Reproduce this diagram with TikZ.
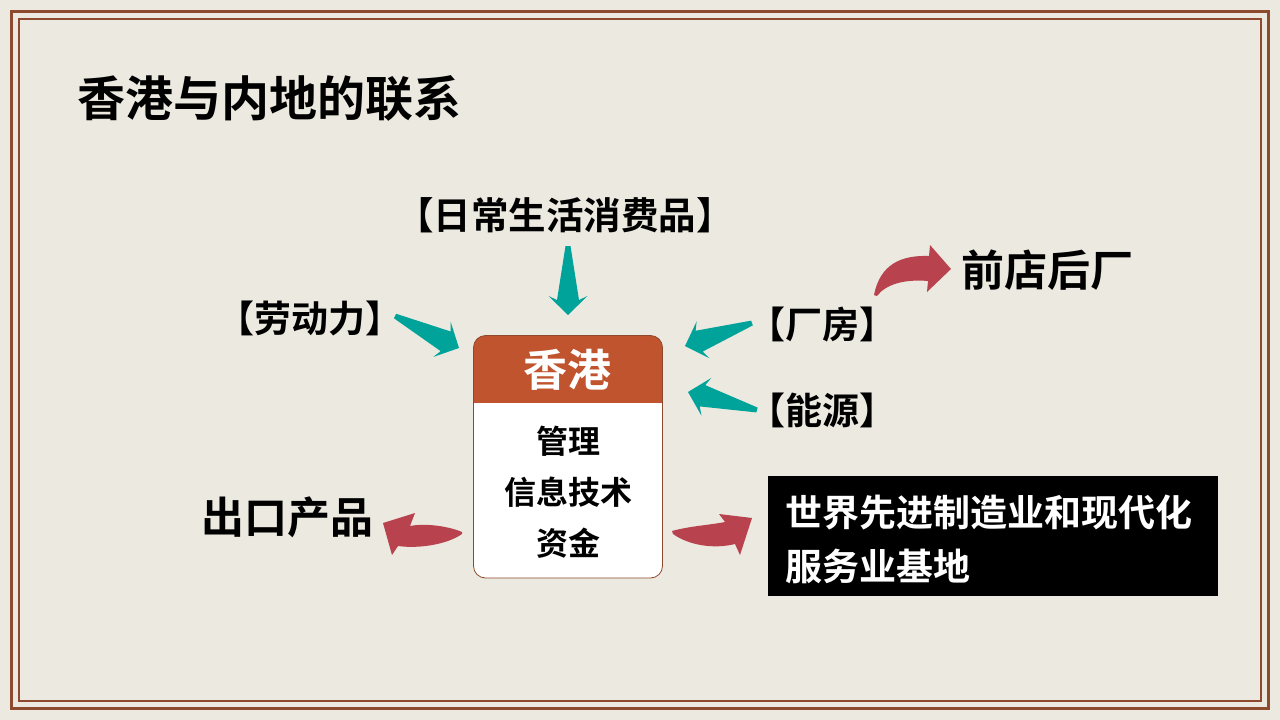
\documentclass[tikz,border=0pt]{standalone}
\usepackage{fontspec}
\newfontfamily\cjk{Noto Sans CJK SC}[BoldFont={Noto Sans CJK SC Bold}]
\usetikzlibrary{calc}
\definecolor{bgc}{HTML}{ECE9E0}
\definecolor{brd}{HTML}{8E4A2E}
\definecolor{hdr}{HTML}{C0542E}
\definecolor{tealc}{HTML}{00A39A}
\definecolor{redc}{HTML}{B8434F}
\newcommand\fs[1]{\fontsize{#1}{#1}\selectfont}
\newcommand\tarrow[2]{%
  \fill[tealc] ($(#1)!2.5pt!90:(#2)$)
    -- ($(#2)!15pt!(#1)!11pt!-90:(#1)$)
    -- ($(#2)!19pt!(#1)!19.5pt!-90:(#1)$)
    -- (#2)
    -- ($(#2)!19pt!(#1)!19.5pt!90:(#1)$)
    -- ($(#2)!15pt!(#1)!11pt!90:(#1)$)
    -- ($(#1)!2.5pt!-90:(#2)$) -- cycle;}
\begin{document}
\begin{tikzpicture}[x=1pt,y=-1pt,
  lbl/.style={inner sep=0pt, font=\cjk\bfseries\fs{#1}},
  lbl/.default=33]
\useasboundingbox (0,0) rectangle (1280,720);
\fill[bgc] (0,0) rectangle (1280,720);
\draw[brd, line width=3.6pt] (11.5,11.5) rectangle (1268.5,708.5);
\draw[brd, line width=1.3pt] (19,19) rectangle (1261,701);

% title
\node[lbl=48, anchor=west] (title) at (77,98) {香港与内地的联系};

% central box
\fill[white, rounded corners=12pt] (473.5,335.5) rectangle (662.5,578);
\begin{scope}
  \clip (470,330) rectangle (666,402);
  \fill[hdr, rounded corners=12pt] (473.5,335.5) rectangle (662.5,430);
\end{scope}
\node[draw=brd, line width=0.8pt, rounded corners=12pt, minimum width=189pt,
      minimum height=242.5pt, inner sep=0pt] (hk) at (568,456.75) {};
\node[lbl=44, text=white] (hkt) at (567,370) {香港};
\node[lbl=32] (m1) at (568,441) {管理};
\node[lbl=32] (m2) at (568,492) {信息技术};
\node[lbl=32] (m3) at (568,543) {资金};

% labels
\node[lbl=37.5] (daily) at (565,215) {【日常生活消费品】};
\node[lbl=37] (labor) at (310,318) {【劳动力】};
\node[lbl=37] (plant) at (822,325) {【厂房】};
\node[lbl=37] (energy) at (822,410) {【能源】};
\node[lbl=43] (qd) at (1047,270) {前店后厂};
\node[lbl=43] (ck) at (287,517) {出口产品};

% black box
\node[fill=black, minimum width=450pt, minimum height=120pt, inner sep=0pt] (bb) at (993,536) {};
\node[lbl=37, text=white, anchor=west] (bt1) at (785,512) {世界先进制造业和现代化};
\node[lbl=37, text=white, anchor=west] (bt2) at (785,566) {服务业基地};

% teal arrows
\coordinate (t1a) at (568,246); \coordinate (t1b) at (568,315);
\coordinate (t2a) at (395,316); \coordinate (t2b) at (459,348);
\coordinate (t3a) at (752,323); \coordinate (t3b) at (685,346);
\coordinate (t4a) at (757,410); \coordinate (t4b) at (688,392);
\tarrow{t1a}{t1b}
\tarrow{t2a}{t2b}
\tarrow{t3a}{t3b}
\tarrow{t4a}{t4b}

% red curved arrows
\fill[redc] (874,295) .. controls (880,265) and (900,255) .. (929,256)
  -- (930,245) -- (951,269) -- (927,292) -- (928,281)
  .. controls (905,279) and (886,284) .. (877,296) -- cycle;
\fill[redc] (462,532) .. controls (448,526) and (425,523) .. (410,526)
  -- (415,513) -- (383,523) -- (392,555) -- (398,546)
  .. controls (420,549) and (448,544) .. (462,534) -- cycle;
\fill[redc] (672,531) .. controls (690,526) and (710,525) .. (725,522)
  -- (719,514) -- (752,518) -- (740,555) -- (735,544)
  .. controls (715,549) and (690,546) .. (673,534) -- cycle;
\end{tikzpicture}
\end{document}
